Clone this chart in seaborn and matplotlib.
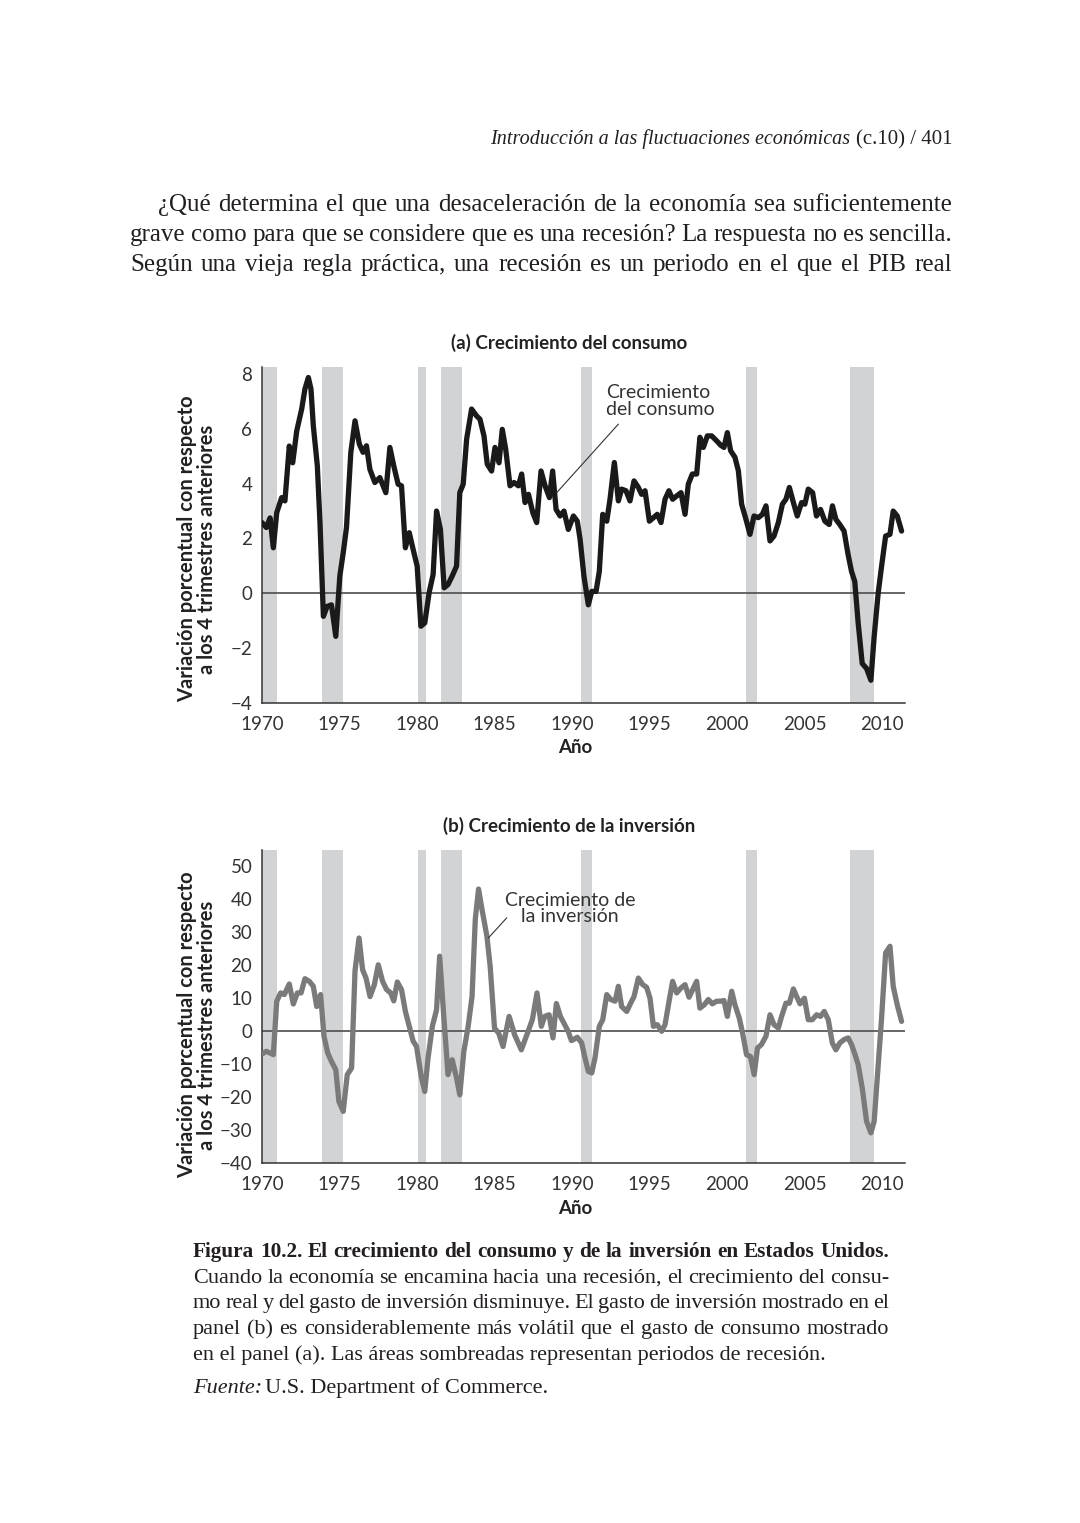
import matplotlib
matplotlib.use('Agg')
import matplotlib.pyplot as plt
import numpy as np
import pandas as pd
import seaborn as sns

# consumo: variacion % respecto a 4 trimestres anteriores
cons_years = [1970.0, 1970.28, 1970.52, 1970.73, 1970.95, 1971.27, 1971.48, 1971.76, 1971.98,
              1972.24, 1972.56, 1972.77, 1972.99, 1973.16, 1973.31, 1973.57, 1973.74, 1973.96,
              1974.2, 1974.48, 1974.76, 1975.02, 1975.24, 1975.45, 1975.73, 1976.0, 1976.28,
              1976.52, 1976.74, 1976.96, 1977.28, 1977.6, 1977.99, 1978.25, 1978.5, 1978.78,
              1979.0, 1979.25, 1979.5, 1979.75, 1980.01, 1980.25, 1980.5, 1980.78, 1981.04,
              1981.26, 1981.51, 1981.75, 1982.0, 1982.27, 1982.55, 1982.76, 1982.98, 1983.2,
              1983.52, 1983.84, 1984.06, 1984.32, 1984.53, 1984.81, 1985.03, 1985.29, 1985.5,
              1985.72, 1986.0, 1986.26, 1986.54, 1986.75, 1986.97, 1987.19, 1987.47, 1987.72,
              1988.0, 1988.26, 1988.54, 1988.75, 1988.97, 1989.23, 1989.48, 1989.76, 1990.09,
              1990.34, 1990.52, 1990.77, 1991.05, 1991.27, 1991.55, 1991.76, 1991.98, 1992.24,
              1992.45, 1992.73, 1992.99, 1993.2, 1993.48, 1993.74, 1994.0, 1994.28, 1994.49,
              1994.71, 1994.99, 1995.25, 1995.5, 1995.74, 1996.0, 1996.25, 1996.49, 1996.75,
              1997.03, 1997.29, 1997.5, 1997.76, 1998.04, 1998.25, 1998.47, 1998.73, 1999.01,
              1999.33, 1999.59, 1999.8, 2000.02, 2000.23, 2000.51, 2000.73, 2000.94, 2001.22,
              2001.48, 2001.74, 2002.02, 2002.28, 2002.51, 2002.77, 2003.03, 2003.31, 2003.57,
              2003.8, 2004.02, 2004.28, 2004.53, 2004.81, 2005.02, 2005.24, 2005.52, 2005.77,
              2006.03, 2006.31, 2006.59, 2006.8, 2007.02, 2007.27, 2007.55, 2007.81, 2008.03,
              2008.24, 2008.46, 2008.72, 2009.0, 2009.28, 2009.49, 2009.75, 2009.97, 2010.23,
              2010.51, 2010.72, 2010.98, 2011.26]
cons_vals = [2.58, 2.4, 2.75, 1.66, 2.94, 3.49, 3.37, 5.37, 4.76,
             5.92, 6.72, 7.45, 7.87, 7.45, 6.11, 4.65, 2.58, -0.84,
             -0.48, -0.42, -1.57, 0.63, 1.48, 2.4, 5.14, 6.29, 5.44,
             5.14, 5.38, 4.52, 4.04, 4.22, 3.67, 5.32, 4.65, 3.98,
             3.92, 1.66, 2.21, 1.6, 0.99, -1.2, -1.08, 0.02, 0.69,
             3.0, 2.33, 0.2, 0.32, 0.63, 0.99, 3.67, 3.98, 5.62,
             6.72, 6.47, 6.35, 5.74, 4.71, 4.46, 5.32, 4.76, 5.98,
             5.26, 3.92, 4.04, 3.92, 4.35, 3.31, 3.61, 2.94, 2.58,
             4.46, 3.92, 3.49, 4.46, 3.06, 2.82, 3.0, 2.33, 2.82,
             2.63, 1.97, 0.62, -0.42, 0.07, 0.07, 0.8, 2.88, 2.63,
             3.43, 4.77, 3.37, 3.8, 3.74, 3.37, 4.1, 3.86, 3.61,
             3.74, 2.63, 2.76, 2.88, 2.58, 3.43, 3.74, 3.43, 3.55,
             3.67, 2.88, 3.98, 4.35, 4.35, 5.69, 5.32, 5.74, 5.74,
             5.56, 5.4, 5.32, 5.86, 5.2, 4.96, 4.47, 3.25, 2.7,
             2.15, 2.82, 2.76, 2.88, 3.19, 1.91, 2.09, 2.58, 3.25,
             3.43, 3.86, 3.31, 2.82, 3.31, 3.25, 3.8, 3.67, 2.82,
             3.06, 2.63, 2.51, 3.19, 2.7, 2.51, 2.27, 1.41, 0.8,
             0.43, -1.09, -2.56, -2.74, -3.17, -1.58, 0.01, 0.99, 2.09,
             2.15, 3.0, 2.82, 2.27]

# inversion
inv_years = [1970.0, 1970.28, 1970.52, 1970.73, 1970.95, 1971.2, 1971.44, 1971.76, 1972.02,
             1972.28, 1972.52, 1972.77, 1973.05, 1973.31, 1973.53, 1973.78, 1974.0, 1974.24,
             1974.48, 1974.76, 1974.96, 1975.24, 1975.5, 1975.78, 1976.0, 1976.26, 1976.49,
             1976.71, 1976.97, 1977.25, 1977.5, 1977.78, 1978.04, 1978.3, 1978.5, 1978.73,
             1979.0, 1979.25, 1979.5, 1979.75, 1979.97, 1980.25, 1980.5, 1980.71, 1980.99,
             1981.26, 1981.46, 1981.72, 1982.0, 1982.27, 1982.55, 1982.76, 1983.02, 1983.3,
             1983.55, 1983.76, 1983.97, 1984.19, 1984.51, 1984.72, 1985.0, 1985.27, 1985.55,
             1985.94, 1986.3, 1986.73, 1987.05, 1987.44, 1987.74, 1988.02, 1988.24, 1988.52,
             1988.77, 1988.99, 1989.25, 1989.53, 1989.75, 1989.96, 1990.09, 1990.34, 1990.62,
             1990.84, 1991.05, 1991.27, 1991.48, 1991.76, 1991.98, 1992.24, 1992.5, 1992.78,
             1992.99, 1993.2, 1993.53, 1993.78, 1994.0, 1994.28, 1994.56, 1994.81, 1995.03,
             1995.25, 1995.5, 1995.78, 1996.0, 1996.26, 1996.49, 1996.75, 1997.03, 1997.29,
             1997.55, 1997.78, 1998.04, 1998.25, 1998.53, 1998.79, 1999.05, 1999.33, 1999.59,
             1999.8, 2000.02, 2000.3, 2000.51, 2000.79, 2001.0, 2001.26, 2001.51, 2001.75,
             2001.96, 2002.22, 2002.51, 2002.77, 2003.03, 2003.31, 2003.52, 2003.8, 2004.02,
             2004.28, 2004.49, 2004.71, 2004.99, 2005.24, 2005.5, 2005.78, 2006.03, 2006.27,
             2006.53, 2006.79, 2007.02, 2007.28, 2007.55, 2007.81, 2008.03, 2008.24, 2008.46,
             2008.72, 2009.0, 2009.28, 2009.49, 2009.71, 2009.97, 2010.23, 2010.51, 2010.72,
             2010.98, 2011.26]
inv_vals = [-6.96, -6.15, -6.66, -7.16, 8.96, 11.5, 11.0, 14.2, 8.15,
            11.5, 11.5, 15.8, 15.0, 13.5, 7.4, 11.0, -1.6, -6.66,
            -9.2, -11.7, -21.3, -24.3, -13.2, -11.2, 18.2, 28.1, 18.5,
            16.0, 10.4, 14.0, 20.0, 15.0, 12.5, 11.5, 9.1, 14.8,
            12.5, 5.9, 1.4, -3.1, -4.7, -13.2, -18.3, -8.2, 1.4,
            6.4, 22.6, 4.9, -13.2, -8.7, -14.2, -19.3, -6.2, 1.4,
            10.4, 33.8, 42.9, 36.8, 28.6, 19.5, 0.85, -0.66, -4.7,
            4.4, -1.2, -5.7, -1.6, 3.4, 11.5, 1.4, 4.4, 4.9,
            -2.1, 8.3, 4.4, 1.9, -0.1, -2.9, -2.6, -1.9, -3.6,
            -8.2, -12.2, -12.7, -8.2, 1.4, 3.4, 11.0, 9.5, 9.0,
            13.5, 7.4, 5.9, 8.4, 10.4, 16.0, 14.0, 13.2, 9.9,
            1.4, 1.9, -0.1, 1.9, 9.0, 15.0, 11.5, 13.0, 14.0,
            10.2, 12.5, 15.0, 6.9, 7.9, 9.5, 8.2, 9.0, 9.0,
            9.2, 4.4, 12.0, 7.9, 3.9, -0.6, -7.2, -7.7, -13.2,
            -5.2, -4.1, -1.6, 4.9, 1.9, 0.9, 4.4, 8.4, 8.4,
            12.7, 10.4, 8.2, 9.9, 3.4, 3.4, 4.9, 4.4, 5.9,
            3.4, -3.6, -5.7, -3.6, -2.6, -2.1, -4.1, -6.9, -10.2,
            -17.2, -27.3, -30.8, -27.3, -13.2, 3.9, 23.6, 25.6, 13.5,
            7.9, 2.9]

# recesiones (NBER)
rec_start = [1969.75, 1973.9, 1980.05, 1981.55, 1990.6, 2001.25, 2007.95]
rec_end = [1970.95, 1975.25, 1980.55, 1982.9, 1991.3, 2001.95, 2009.5]

x_ticks = [1970, 1975, 1980, 1985, 1990, 1995, 2000, 2005, 2010]

W, H = 1080, 1523
sns.set_theme(style='white')
plt.rcParams['font.family'] = ['Lato', 'DejaVu Sans']
plt.rcParams['axes.unicode_minus'] = True

fig = plt.figure(figsize=(W / 100, H / 100), dpi=100)
fig.patch.set_facecolor('white')


def fx(x):
    return x / W


def fy(y):
    return 1 - y / H


def panel(rect, years, vals, color, ylim, yticks, title, ylab_y):
    ax = fig.add_axes(rect)
    for s, e in zip(rec_start, rec_end):
        ax.axvspan(s, e, color='#d1d3d4', lw=0, zorder=0)
    ax.axhline(0, color='#4d4d4d', lw=1.2, zorder=1)
    df = pd.DataFrame({'year': years, 'val': vals})
    sns.lineplot(data=df, x='year', y='val', ax=ax, color=color, lw=3.8,
                 zorder=3, sort=False)
    ax.set_xlim(1970, 2011.48)
    ax.set_ylim(*ylim)
    ax.set_xticks(x_ticks)
    ax.set_yticks(yticks)
    ax.tick_params(direction='in', length=9, width=1.1, color='#333333',
                   labelsize=13.5, labelcolor='#333333', pad=7)
    ax.tick_params(axis='x', pad=9)
    for sp in ['top', 'right']:
        ax.spines[sp].set_visible(False)
    for sp in ['left', 'bottom']:
        ax.spines[sp].set_color('#333333')
        ax.spines[sp].set_linewidth(1.1)
    ax.set_xlabel('Año', fontsize=13.5, fontweight='bold', color='#222222', labelpad=5)
    ax.xaxis.label.set_x((575 - 262) / 643)
    ax.set_ylabel('')
    ax.set_title(title, fontsize=13.5, fontweight='bold', color='#222222', pad=13,
                 x=(569 - 262) / 643)
    fig.text(fx(197), fy(ylab_y), 'Variación porcentual con respecto\na los 4 trimestres anteriores',
             rotation=90, ha='center', va='center', fontsize=14.5, fontweight='bold',
             color='#222222', linespacing=1.0)
    ax.set_facecolor('none')
    return ax


ax1 = panel([fx(262), fy(703), fx(905) - fx(262), (703 - 366.8) / H],
            cons_years, cons_vals, '#1a1a1a', (-4, 8.26), list(range(-4, 9, 2)),
            '(a) Crecimiento del consumo', 549)
ax1.annotate('', xy=(1989.01, 3.67), xytext=(1992.99, 6.17),
             arrowprops=dict(arrowstyle='-', lw=0.8, color='#333333', shrinkA=0, shrinkB=0))
ax1.text(1992.19, 7.01, 'Crecimiento\ndel consumo', ha='left', va='center', fontsize=14,
         color='#333333', linespacing=0.95)

ax2 = panel([fx(262), fy(1163.3), fx(905) - fx(262), (1163.3 - 850) / H],
            inv_years, inv_vals, '#7a7a7a', (-40, 54.7), list(range(-40, 51, 10)),
            '(b) Crecimiento de la inversión', 1025)
ax2.annotate('', xy=(1984.6, 28.1), xytext=(1985.79, 34.2),
             arrowprops=dict(arrowstyle='-', lw=0.8, color='#333333', shrinkA=0, shrinkB=0))
ax2.text(1989.87, 37.0, 'Crecimiento de\nla inversión', ha='center', va='center', fontsize=14,
         color='#333333', linespacing=0.95, multialignment='center')

# texto de la pagina
serif = 'Liberation Serif'
ink = '#231f20'
renderer = fig.canvas.get_renderer()


def justify(line, x0, x1, y, **kw):
    words = line.split(' ')
    arts = [fig.text(0, fy(y), w, va='baseline', ha='left', **kw) for w in words]
    widths = [a.get_window_extent(renderer).width for a in arts]
    gap = ((x1 - x0) - sum(widths)) / max(len(words) - 1, 1)
    x = x0
    for a, w in zip(arts, widths):
        a.set_x(fx(x))
        x += w + gap


body = dict(family=serif, fontsize=18, color=ink)
justify('¿Qué determina el que una desaceleración de la economía sea suficientemente', 158, 952, 211, **body)
justify('grave como para que se considere que es una recesión? La respuesta no es sencilla.', 130, 952, 241, **body)
justify('Según una vieja regla práctica, una recesión es un periodo en el que el PIB real', 130, 952, 271, **body)

t = fig.text(fx(952), fy(144), '(c.10) / 401', ha='right', va='baseline', family=serif,
             fontsize=15, color=ink)
wr = t.get_window_extent(renderer).width
fig.text(fx(952 - wr - 5), fy(144), 'Introducción a las fluctuaciones económicas', ha='right',
         va='baseline', family=serif, fontsize=14.5, style='italic', color=ink)

cap = dict(family=serif, fontsize=16, color=ink)
justify('Figura 10.2. El crecimiento del consumo y de la inversión en Estados Unidos.', 193, 889, 1257,
        fontweight='bold', family=serif, fontsize=15.3, color=ink)
justify('Cuando la economía se encamina hacia una recesión, el crecimiento del consu-', 193, 889, 1283, **cap)
justify('mo real y del gasto de inversión disminuye. El gasto de inversión mostrado en el', 193, 889, 1308, **cap)
justify('panel (b) es considerablemente más volátil que el gasto de consumo mostrado', 193, 889, 1334, **cap)
fig.text(fx(193), fy(1360), 'en el panel (a). Las áreas sombreadas representan periodos de recesión.',
         va='baseline', **cap)
f1 = fig.text(fx(193), fy(1393), 'Fuente:', va='baseline', style='italic', **cap)
wf = f1.get_window_extent(renderer).width
fig.text(fx(193 + wf + 3), fy(1393), 'U.S. Department of Commerce.', va='baseline', **cap)

fig.savefig('out.png', dpi=100, facecolor='white')
